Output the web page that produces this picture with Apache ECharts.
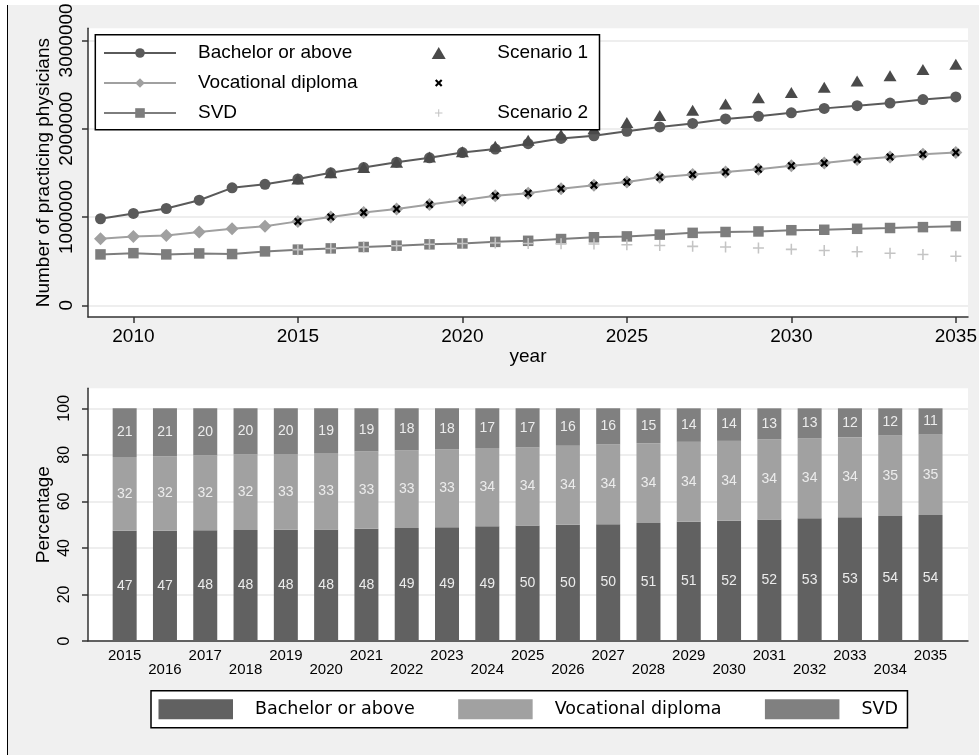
<!DOCTYPE html>
<html><head><meta charset="utf-8">
<script src="https://cdn.jsdelivr.net/npm/echarts@6/dist/echarts.min.js"></script>
<style>
html,body{margin:0;padding:0;background:#fff;}
#frame{position:absolute;left:7px;top:5px;right:0;bottom:0;background:#f0f0f0;border-left:1.5px solid #000;}
#chart{position:absolute;left:0;top:0;width:979px;height:755px;}
</style></head><body>
<div id="frame"></div><div id="chart"></div>
<script>
// ---------- data ----------
const years = [2009,2010,2011,2012,2013,2014,2015,2016,2017,2018,2019,2020,2021,2022,2023,2024,2025,2026,2027,2028,2029,2030,2031,2032,2033,2034,2035];
const bachelor = [980000,1040000,1096000,1190000,1330000,1370000,1430000,1500000,1560000,1620000,1670000,1730000,1770000,1830000,1890000,1920000,1970000,2020000,2060000,2110000,2140000,2180000,2230000,2260000,2290000,2330000,2360000];
const vocational = [754000,780000,790000,830000,866000,896000,950000,1000000,1050000,1090000,1140000,1190000,1240000,1270000,1320000,1360000,1395000,1450000,1480000,1510000,1540000,1580000,1610000,1650000,1680000,1710000,1730000];
const svd = [576000,590000,576000,587000,580000,610000,630000,644000,660000,675000,690000,700000,718000,730000,750000,770000,780000,800000,820000,830000,836000,850000,855000,866000,875000,885000,896000];
const scenYears = [2015,2016,2017,2018,2019,2020,2021,2022,2023,2024,2025,2026,2027,2028,2029,2030,2031,2032,2033,2034,2035];
const scen1Bachelor = [1430000,1500000,1560000,1620000,1680000,1740000,1800000,1870000,1930000,2000000,2070000,2150000,2210000,2280000,2350000,2410000,2470000,2540000,2600000,2670000,2730000];
const scen1Vocational = [950000,1000000,1050000,1090000,1140000,1190000,1240000,1270000,1320000,1360000,1395000,1450000,1480000,1510000,1540000,1580000,1610000,1650000,1680000,1710000,1730000];
const scen2Svd = [630000,644000,660000,675000,690000,700000,705000,700000,697000,695000,686000,678000,667000,660000,648000,633000,621000,605000,590000,575000,556000];
const barYears = [2015,2016,2017,2018,2019,2020,2021,2022,2023,2024,2025,2026,2027,2028,2029,2030,2031,2032,2033,2034,2035];
const barBachelor = [47.4,47.4,47.6,47.7,47.8,47.9,48.2,48.6,48.9,49.3,49.6,50.0,50.2,50.7,51.2,51.7,52.2,52.7,53.2,53.7,54.1];
const barVocational = [31.7,32.0,32.1,32.4,32.6,32.9,33.2,33.3,33.4,33.6,33.6,33.9,34.2,34.3,34.4,34.3,34.4,34.4,34.4,34.6,34.7];
const barSvd = [20.9,20.6,20.3,19.9,19.6,19.2,18.6,18.1,17.7,17.1,16.8,16.1,15.6,15.0,14.4,14.0,13.4,12.9,12.4,11.7,11.2];
const topXTicks = [2010,2015,2020,2025,2030,2035];
const topYTicks = [0,1000000,2000000,3000000];
const barYTicks = [0,20,40,60,80,100];

// ---------- styles ----------
const FONT = 'Liberation Sans, Arial, sans-serif';
const AX = '#333333';
const GRIDC = '#e9e9e9';
const plusSym = 'path://M4.3,0H5.7V4.3H10V5.7H5.7V10H4.3V5.7H0V4.3H4.3Z';
const crossSym = 'path://M0,2L2,0L5,3L8,0L10,2L7,5L10,8L8,10L5,7L2,10L0,8L3,5Z';
const plusIcon = 'path://M0,0M16,16M7.3,3H8.7V7.3H13V8.7H8.7V13H7.3V8.7H3V7.3H7.3Z';
const crossIcon = 'path://M0,0M16,16M3,5L5,3L8,6L11,3L13,5L10,8L13,11L11,13L8,10L5,13L3,11L6,8Z';

const pair = (xs, ys) => xs.map((x, i) => [x, ys[i]]);
// value first, year second (so that stacking happens on the y dimension)
const vpair = (xs, ys) => xs.map((x, i) => [ys[i], x]);
const axLine = {show: true, onZero: false, lineStyle: {color: AX, width: 1.5}};
const plain = v => String(v);

const chart = echarts.init(document.getElementById('chart'), null, {renderer: 'canvas'});
const barLabel = {show: true, position: 'inside', color: '#ececec', fontSize: 14, fontFamily: FONT,
  formatter: p => Math.round(p.value[0])};

chart.setOption({
  backgroundColor: 'transparent',
  animation: false,
  textStyle: {fontFamily: FONT},
  grid: [
    {left: 88, right: 11, top: 28.3, bottom: 438, show: true, backgroundColor: '#fff', borderWidth: 0, outerBoundsMode: 'none'},
    {left: 88, right: 11, top: 388.3, bottom: 114, show: true, backgroundColor: '#fff', borderWidth: 0, outerBoundsMode: 'none'}
  ],
  xAxis: [
    {gridIndex: 0, type: 'value', min: 2008.62, max: 2035.37,
      name: 'year', nameLocation: 'middle', nameGap: 30, nameMoveOverlap: false,
      nameTextStyle: {fontSize: 19, color: '#000', fontFamily: FONT},
      axisLine: axLine,
      axisTick: {show: true, length: 6, customValues: topXTicks, lineStyle: {color: AX, width: 1.5}},
      axisLabel: {customValues: topXTicks, formatter: plain, fontSize: 19, color: '#000', margin: 10, fontFamily: FONT},
      splitLine: {show: false}},
    {gridIndex: 1, type: 'value', min: 2014.09, max: 2035.93,
      axisLine: axLine,
      axisTick: {show: false},
      axisLabel: {customValues: barYears, fontSize: 15, lineHeight: 14.5, color: '#000', margin: 7.5, fontFamily: FONT,
        formatter: v => (v % 2 === 0 ? '\n' : '') + v},
      splitLine: {show: false}}
  ],
  yAxis: [
    {gridIndex: 0, type: 'value', min: -133000, max: 3137000, splitNumber: 3,
      name: 'Number of practicing physicians', nameLocation: 'middle', nameGap: 35, nameMoveOverlap: false,
      nameTextStyle: {fontSize: 19, color: '#000', fontFamily: FONT},
      axisLine: axLine,
      axisTick: {show: true, length: 6, customValues: topYTicks, lineStyle: {color: AX, width: 1.5}},
      axisLabel: {customValues: topYTicks, formatter: plain, rotate: 90, fontSize: 19, color: '#000', margin: 11.5, fontFamily: FONT},
      splitLine: {show: true, lineStyle: {color: GRIDC, width: 1.5}}},
    {gridIndex: 1, type: 'value', min: 0, max: 108.6, splitNumber: 5,
      name: 'Percentage', nameLocation: 'middle', nameGap: 35, nameMoveOverlap: false,
      nameTextStyle: {fontSize: 19, color: '#000', fontFamily: FONT},
      axisLine: axLine,
      axisTick: {show: true, length: 6, customValues: barYTicks, lineStyle: {color: AX, width: 1.5}},
      axisLabel: {customValues: barYTicks, formatter: plain, rotate: 90, fontSize: 16, color: '#000', margin: 15, fontFamily: FONT},
      splitLine: {show: true, lineStyle: {color: GRIDC, width: 1.5}}}
  ],
  legend: [
    {data: ['Bachelor or above', 'Vocational diploma', 'SVD'], orient: 'vertical',
      left: 95.3, top: 34.7, padding: [8.8, 242, 7.2, 7.7], itemWidth: 72, itemHeight: 12, itemGap: 11,
      backgroundColor: '#fff', borderColor: '#000', borderWidth: 1.5, selectedMode: false,
      textStyle: {fontSize: 19, color: '#000', fontFamily: FONT, padding: [0, 0, 0, 17]}},
    {data: [{name: 'Scenario 1'}, {name: 'Scenario 1 vocational', icon: crossIcon}, {name: 'Scenario 2', icon: plusIcon}],
      orient: 'vertical', left: 431.7, top: 43.5, padding: 0, itemWidth: 14, itemHeight: 12, itemGap: 11,
      selectedMode: false, z: 6,
      formatter: n => (n === 'Scenario 1 vocational' ? ' ' : n),
      textStyle: {fontSize: 19, color: '#000', fontFamily: FONT, padding: [0, 0, 0, 46.6]}},
    {data: ['Bachelor or above ', 'Vocational diploma ', 'SVD '], orient: 'horizontal',
      left: 151, top: 690.7, padding: [8.6, 9.5, 8.4, 7.5], itemWidth: 74.5, itemHeight: 20, itemGap: 43.5,
      icon: 'rect', backgroundColor: '#fff', borderColor: '#000', borderWidth: 1.5, selectedMode: false,
      formatter: n => n.trim(),
      textStyle: {fontSize: 17.5, color: '#000', fontFamily: 'DejaVu Sans', padding: [0, 0, 0, 17]}}
  ],
  series: [
    {type: 'line', name: 'Bachelor or above', xAxisIndex: 0, yAxisIndex: 0, data: pair(years, bachelor),
      symbol: 'circle', symbolSize: 11, lineStyle: {color: '#5a5a5a', width: 2}, itemStyle: {color: '#5a5a5a'}, emphasis: {disabled: true}},
    {type: 'line', name: 'Vocational diploma', xAxisIndex: 0, yAxisIndex: 0, data: pair(years, vocational),
      symbol: 'diamond', symbolSize: 13, lineStyle: {color: '#a0a0a0', width: 2}, itemStyle: {color: '#a0a0a0'}, emphasis: {disabled: true}},
    {type: 'line', name: 'SVD', xAxisIndex: 0, yAxisIndex: 0, data: pair(years, svd),
      symbol: 'rect', symbolSize: 10.5, lineStyle: {color: '#7d7d7d', width: 2}, itemStyle: {color: '#7d7d7d'}, emphasis: {disabled: true}},
    {type: 'scatter', name: 'Scenario 1', xAxisIndex: 0, yAxisIndex: 0, data: pair(scenYears, scen1Bachelor),
      symbol: 'triangle', symbolSize: [13, 11], itemStyle: {color: '#4a4a4a', opacity: 1}, z: 3, emphasis: {disabled: true}},
    {type: 'scatter', name: 'Scenario 1 vocational', xAxisIndex: 0, yAxisIndex: 0, data: pair(scenYears, scen1Vocational),
      symbol: crossSym, symbolSize: 8, itemStyle: {color: '#000', opacity: 1}, z: 3, emphasis: {disabled: true}},
    {type: 'scatter', name: 'Scenario 2', xAxisIndex: 0, yAxisIndex: 0, data: pair(scenYears, scen2Svd),
      symbol: plusSym, symbolSize: 11, itemStyle: {color: '#c4c4c4', opacity: 1}, z: 3, emphasis: {disabled: true}},
    {type: 'bar', name: 'Bachelor or above ', xAxisIndex: 1, yAxisIndex: 1, stack: 'pct', barWidth: 24,
      encode: {x: 1, y: 0}, data: vpair(barYears, barBachelor), itemStyle: {color: '#616161'}, label: barLabel, emphasis: {disabled: true}},
    {type: 'bar', name: 'Vocational diploma ', xAxisIndex: 1, yAxisIndex: 1, stack: 'pct', barWidth: 24,
      encode: {x: 1, y: 0}, data: vpair(barYears, barVocational), itemStyle: {color: '#a1a1a1'}, label: barLabel, emphasis: {disabled: true}},
    {type: 'bar', name: 'SVD ', xAxisIndex: 1, yAxisIndex: 1, stack: 'pct', barWidth: 24,
      encode: {x: 1, y: 0}, data: vpair(barYears, barSvd), itemStyle: {color: '#808080'}, label: barLabel, emphasis: {disabled: true}}
  ]
});
</script>
</body></html>
